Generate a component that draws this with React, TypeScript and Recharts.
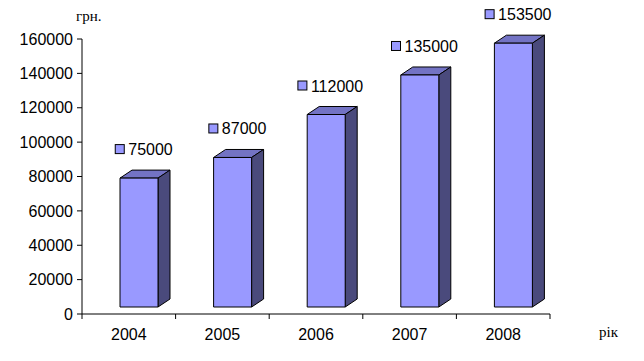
import { Bar, BarChart, LabelList, XAxis, YAxis } from 'recharts';

const years = ['2004', '2005', '2006', '2007', '2008'];
const incomes = [75000, 87000, 112000, 135000, 153500];
const yTicks = [0, 20000, 40000, 60000, 80000, 100000, 120000, 140000, 160000];

const data = years.map((year, i) => ({ year, value: incomes[i] }));

const FRONT = '#9999FF';
const TOP = '#7373C4';
const SIDE = '#4A4A7C';
const BAND = (644 - 82 - 94) / years.length;
const DX = 12;
const DY = 8;

// box with front, top and side faces, shifted like the Excel 3d column
const Column3D = (props: any) => {
  const { x, y, width, height } = props;
  const fx = x + 10;
  const fy = y - 7;
  const fb = y + height - 7;
  const fr = fx + width;
  return (
    <g stroke="#000" strokeWidth={1} strokeLinejoin="round">
      <polygon points={`${fx},${fy} ${fx + DX},${fy - DY} ${fr + DX},${fy - DY} ${fr},${fy}`} fill={TOP} />
      <polygon points={`${fr},${fy} ${fr + DX},${fy - DY} ${fr + DX},${fb - DY} ${fr},${fb}`} fill={SIDE} />
      <rect x={fx} y={fy} width={width} height={fb - fy} fill={FRONT} />
    </g>
  );
};

const ValueLabel = (props: any) => {
  const { x, y, width, value } = props;
  const text = String(value);
  const textW = text.length * 9.1;
  const blockW = 9 + 4 + textW;
  const cx = x + width / 2 + 15.5;
  const left = cx - blockW / 2;
  const cy = y - 7 - 29;
  return (
    <g>
      <rect x={left} y={cy - 4.5} width={9} height={9} fill={FRONT} stroke="#000" strokeWidth={1} />
      <text x={left + 13} y={cy + 6} fontSize={16} fontFamily="'Liberation Sans', Arial, sans-serif" fill="#000">
        {text}
      </text>
    </g>
  );
};

const YearTick = (props: any) => {
  const { x, y, payload, index } = props;
  const left = x - BAND / 2;
  return (
    <g>
      <line x1={left} y1={314} x2={left} y2={319} stroke="#000" />
      {index === years.length - 1 && <line x1={x + BAND / 2} y1={314} x2={x + BAND / 2} y2={319} stroke="#000" />}
      <text x={x} y={y + 18} textAnchor="middle" fontSize={16} fontFamily="'Liberation Sans', Arial, sans-serif" fill="#000">
        {payload.value}
      </text>
    </g>
  );
};

export default function App() {
  return (
    <div style={{ position: 'absolute', left: 0, top: 0, width: 644, height: 361, background: '#fff' }}>
      <BarChart width={644} height={361} data={data} margin={{ top: 39, right: 94, left: 0, bottom: 17 }}>
        <XAxis
          dataKey="year"
          height={30}
          tickLine={false}
          axisLine={{ stroke: '#000' }}
          tick={<YearTick />}
          interval={0}
        />
        <YAxis
          width={82}
          domain={[0, 160000]}
          ticks={yTicks}
          interval={0}
          tickSize={5}
          tickMargin={4}
          tickLine={{ stroke: '#000' }}
          axisLine={{ stroke: '#000' }}
          tick={{ fill: '#000', fontSize: 16, fontFamily: "'Liberation Sans', Arial, sans-serif" }}
        />
        <Bar dataKey="value" barSize={38} shape={<Column3D />} isAnimationActive={false}>
          <LabelList dataKey="value" content={<ValueLabel />} />
        </Bar>
        <text x={76} y={21} fontSize={15} fontFamily="'Liberation Serif', 'Times New Roman', serif" fill="#000">
          грн.
        </text>
        <text x={599} y={337} fontSize={15} fontFamily="'Liberation Serif', 'Times New Roman', serif" fill="#000">
          рік
        </text>
      </BarChart>
    </div>
  );
}
